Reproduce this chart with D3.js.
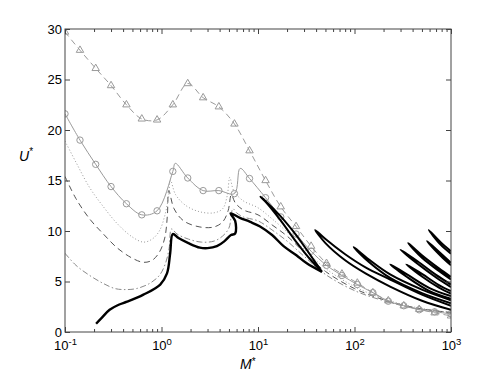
<!DOCTYPE html>
<html>
<head>
<meta charset="utf-8">
<script src="https://cdn.jsdelivr.net/npm/d3@7"></script>
<style>
  body { margin: 0; background: #fff; }
  svg text { font-family: "Liberation Sans", Arial, sans-serif; }
</style>
</head>
<body>
<div id="chart"></div>
<script>
// ---- data (M*, U*) ----
var markerM   = [0.1, 0.143, 0.208, 0.3, 0.433, 0.625, 0.9, 1.31, 1.87, 2.7, 3.93, 5.7, 8.17,
                 11.97, 17.2, 24.8, 35.5, 51.3, 74.1, 107, 155, 224, 324, 468, 676, 1000];
var triangleU = [29.7, 27.9, 26.1, 24.4, 22.5, 21.1, 21.0, 22.5, 24.6, 23.2, 22.3, 20.6, 17.95,
                 15.0, 12.4, 10.45, 8.5, 6.8, 5.75, 4.85, 3.9, 3.1, 2.6, 2.25, 1.9, 1.6];
var circleU   = [21.6, 19.0, 16.6, 14.4, 12.7, 11.6, 12.0, 15.9, 15.25, 14.0, 14.0, 13.7, 15.2,
                 13.3, 11.4, 9.7, 8.0, 6.6, 5.6, 4.7, 3.9, 3.05, 2.6, 2.2, 2.0, 1.8];
var circleCusps = [[1.39, 16.7], [6.53, 16.2]];

var dottedCurve = [[0.1, 18.9], [0.13, 16.8], [0.18, 14.3], [0.25, 12.4], [0.35, 10.7], [0.5, 9.4],
                   [0.65, 8.9], [0.8, 9.2], [0.95, 10.0], [1.08, 11.5], [1.18, 13.3], [1.24, 15.0],
                   [1.4, 13.6], [1.8, 12.5], [2.5, 11.9], [3.5, 11.8], [4.3, 12.2], [4.8, 13.5],
                   [5.1, 15.3], [5.6, 14.0], [7, 13.0], [10, 12.3], [14, 11.2], [20, 9.9], [30, 8.2],
                   [50, 6.3], [100, 4.5], [200, 3.3], [400, 2.5], [1000, 1.9]];
var dashedCurve = [[0.1, 15.4], [0.13, 13.2], [0.18, 11.2], [0.25, 9.7], [0.35, 8.3], [0.5, 7.3],
                   [0.65, 6.9], [0.8, 7.1], [0.95, 7.9], [1.08, 9.3], [1.15, 11.5], [1.19, 14.0],
                   [1.35, 12.2], [1.7, 11.0], [2.5, 10.4], [3.5, 10.4], [4.3, 10.9], [4.9, 12.0],
                   [5.3, 13.6], [5.8, 12.8], [7, 12.1], [10, 11.6], [14, 10.6], [20, 9.5], [30, 7.9],
                   [50, 6.0], [100, 4.3], [200, 3.2], [400, 2.45], [1000, 1.9]];
var dashDotCurve = [[0.1, 7.8], [0.13, 6.6], [0.18, 5.6], [0.25, 4.8], [0.33, 4.3], [0.42, 4.2],
                    [0.55, 4.3], [0.75, 4.8], [0.95, 5.6], [1.1, 6.8], [1.2, 8.3], [1.27, 10.2],
                    [1.45, 9.7], [1.9, 9.2], [2.6, 8.9], [3.5, 9.0], [4.3, 9.5], [5.0, 10.3],
                    [5.5, 12.2], [6, 11.8], [7, 11.4], [10, 11.0], [14, 10.1], [20, 9.0], [30, 7.5],
                    [50, 5.7], [100, 4.1], [200, 3.1], [400, 2.4], [1000, 1.95]];

var blackMain = [[0.21, 0.82], [0.24, 1.4], [0.29, 2.2], [0.36, 2.7], [0.44, 3.0], [0.65, 3.7],
                 [0.97, 4.7], [1.14, 5.8], [1.23, 7.8], [1.31, 9.7], [1.5, 9.3], [1.9, 8.8],
                 [2.5, 8.35], [3.0, 8.3], [3.75, 8.5], [4.5, 9.0], [5.25, 9.6], [5.8, 9.75],
                 [5.8, 11.0], [5.2, 11.75], [6.5, 11.3], [8.3, 10.9], [10.5, 10.45], [14, 9.6],
                 [18.4, 8.5], [25, 7.6], [32, 6.8], [46, 5.95]];
var blackLoops = [
  [[46, 5.95], [34.7, 7.2], [25, 8.9], [17, 11.1], [12.5, 12.7], [10.6, 13.4], [12, 12.95],
   [17, 11.5], [25.3, 9.5], [35, 7.6], [46, 5.95]],
  [[1000, 2.2], [500, 3.1], [234, 4.5], [130, 5.8], [80, 7.1], [50, 8.8], [39.2, 10.1],
   [50, 9.2], [80, 7.7], [130, 6.4], [234, 5.2], [500, 3.7], [1000, 2.6]],
  [[1000, 2.85], [500, 3.85], [234, 5.35], [140, 6.95], [98, 8.4], [140, 7.2], [234, 5.7],
   [500, 4.2], [1000, 3.15]],
  [[1000, 3.3], [600, 4.05], [350, 5.45], [235, 6.7], [350, 5.7], [600, 4.35], [1000, 3.55]],
  [[1000, 3.8], [750, 4.4], [500, 5.5], [345, 6.7], [500, 5.75], [750, 4.65], [1000, 4.05]],
  [[1000, 4.45], [700, 5.4], [450, 6.75], [300, 8.15], [450, 7.0], [700, 5.65], [1000, 4.7]],
  [[1000, 5.2], [750, 6.05], [500, 7.35], [360, 8.8], [500, 7.6], [750, 6.3], [1000, 5.45]],
  [[1000, 6.6], [780, 7.55], [565, 9.0], [780, 7.8], [1000, 6.85]],
  [[1000, 7.75], [780, 8.65], [588, 10.1], [780, 8.9], [1000, 8.0]]
];

var xTicks = [0.1, 1, 10, 100, 1000];
var yTicks = [0, 5, 10, 15, 20, 25, 30];

// ---- svg setup ----
var svgWidth = 498;
var svgHeight = 375;
var margin = { top: 29, left: 65, right: 47, bottom: 43 };
var width = svgWidth - margin.left - margin.right;
var height = svgHeight - margin.top - margin.bottom;

var svg = d3.select("#chart").append("svg")
    .attr("width", svgWidth)
    .attr("height", svgHeight);

var g = svg.append("g")
    .attr("transform", `translate(${margin.left},${margin.top})`);

var x = d3.scaleLog().domain([0.1, 1000]).range([0, width]);
var y = d3.scaleLinear().domain([0, 30]).range([height, 0]);

g.append("clipPath").attr("id", "plotclip")
  .append("rect").attr("width", width).attr("height", height);

var plot = g.append("g").attr("clip-path", "url(#plotclip)");

var line = d3.line()
    .x(d => x(d[0]))
    .y(d => y(d[1]))
    .curve(d3.curveCatmullRom.alpha(0.5));

// gray curves
var trianglePts = markerM.map((m, i) => [m, triangleU[i]]);
var circlePts = markerM.map((m, i) => [m, circleU[i]]);
var circleLine = circlePts.concat(circleCusps).sort((a, b) => a[0] - b[0]);

plot.append("path").attr("d", line(dashDotCurve))
    .attr("fill", "none").attr("stroke", "#8a8a8a").attr("stroke-width", 1)
    .attr("stroke-dasharray", "6,2.5,1.5,2.5");
plot.append("path").attr("d", line(dashedCurve))
    .attr("fill", "none").attr("stroke", "#555").attr("stroke-width", 1)
    .attr("stroke-dasharray", "6,4");
plot.append("path").attr("d", line(dottedCurve))
    .attr("fill", "none").attr("stroke", "#999").attr("stroke-width", 1)
    .attr("stroke-dasharray", "1,2.2");
plot.append("path").attr("d", line(circleLine))
    .attr("fill", "none").attr("stroke", "#9a9a9a").attr("stroke-width", 1);
plot.append("path").attr("d", line(trianglePts))
    .attr("fill", "none").attr("stroke", "#9a9a9a").attr("stroke-width", 1)
    .attr("stroke-dasharray", "6,4");

plot.selectAll(".circ").data(circlePts)
  .enter().append("circle")
    .attr("cx", d => x(d[0]))
    .attr("cy", d => y(d[1]))
    .attr("r", 3.2)
    .attr("fill", "none")
    .attr("stroke", "#9a9a9a");

plot.selectAll(".tri").data(trianglePts)
  .enter().append("path")
    .attr("transform", d => `translate(${x(d[0])},${y(d[1])})`)
    .attr("d", d3.symbol(d3.symbolTriangle, 24))
    .attr("fill", "none")
    .attr("stroke", "#9a9a9a");

// thick black curves
plot.append("path").attr("d", line(blackMain))
    .attr("fill", "none").attr("stroke", "#000").attr("stroke-width", 2.4)
    .attr("stroke-linejoin", "round");
plot.selectAll(".loop").data(blackLoops)
  .enter().append("path")
    .attr("d", d => line(d))
    .attr("fill", "none").attr("stroke", "#000").attr("stroke-width", 2)
    .attr("stroke-linejoin", "round");

// ---- axes (matlab style box, ticks inside) ----
var minorTicks = [];
for (var p = -1; p < 3; p++) {
  for (var k = 2; k < 10; k++) minorTicks.push(k * Math.pow(10, p));
}

var axisColor = "#444";

function styleAxis(sel) {
  sel.select(".domain").remove();
  sel.selectAll(".tick line").attr("stroke", axisColor);
  sel.selectAll("text").attr("fill", "#000").attr("font-size", "13px");
}

var bottomAxisG = g.append("g")
    .attr("transform", `translate(0,${height})`)
    .call(d3.axisBottom(x).tickValues(xTicks).tickSize(-5).tickPadding(9).tickFormat(""));
styleAxis(bottomAxisG);
bottomAxisG.selectAll(".tick text")
    .text("10")
    .append("tspan")
    .attr("dy", "-0.55em")
    .attr("font-size", "9.5px")
    .text(d => Math.round(Math.log10(d)));

g.append("g").attr("transform", `translate(0,${height})`)
    .call(d3.axisBottom(x).tickValues(minorTicks).tickSize(-3).tickFormat(""))
    .call(styleAxis);
g.append("g")
    .call(d3.axisTop(x).tickValues(xTicks).tickSize(-5).tickFormat(""))
    .call(styleAxis);
g.append("g")
    .call(d3.axisTop(x).tickValues(minorTicks).tickSize(-3).tickFormat(""))
    .call(styleAxis);

var leftAxisG = g.append("g")
    .call(d3.axisLeft(y).tickValues(yTicks).tickSize(-5).tickPadding(3));
styleAxis(leftAxisG);
g.append("g").attr("transform", `translate(${width},0)`)
    .call(d3.axisRight(y).tickValues(yTicks).tickSize(-5).tickFormat(""))
    .call(styleAxis);

g.append("rect")
    .attr("width", width).attr("height", height)
    .attr("fill", "none").attr("stroke", axisColor).attr("stroke-width", 1);

// axis labels
var xLabel = svg.append("text")
    .attr("x", 240).attr("y", 369)
    .attr("font-size", "14px").attr("font-style", "italic")
    .text("M");
xLabel.append("tspan").attr("dy", "-0.45em").attr("font-size", "10px").attr("font-style", "normal").text("*");

var yLabel = svg.append("text")
    .attr("x", 19).attr("y", 161)
    .attr("font-size", "14px").attr("font-style", "italic")
    .text("U");
yLabel.append("tspan").attr("dy", "-0.6em").attr("font-size", "10px").attr("font-style", "normal").text("*");
</script>
</body>
</html>
